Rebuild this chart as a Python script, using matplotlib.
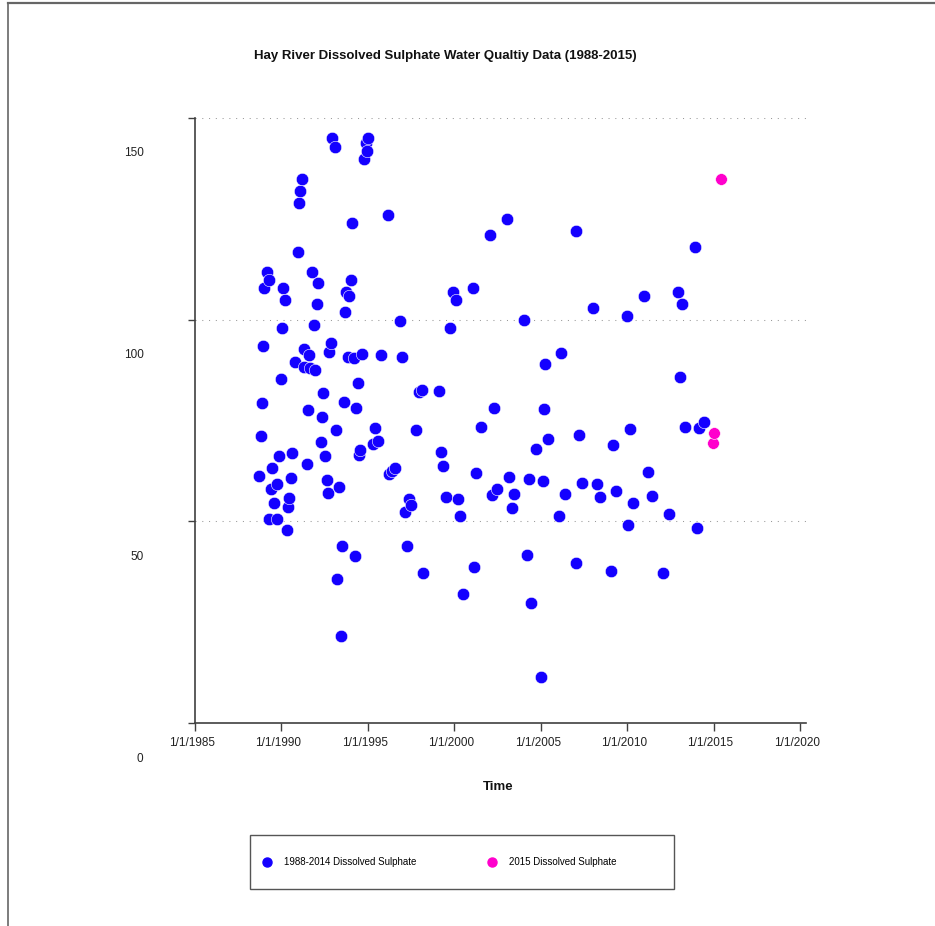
import matplotlib
matplotlib.use("Agg")
import matplotlib.pyplot as plt
import matplotlib.transforms as mtransforms
from matplotlib.lines import Line2D
from matplotlib.patches import Rectangle

plt.rcParams['font.family'] = ['Liberation Sans', 'DejaVu Sans']

# sample dates as decimal years, sulphate in mg/L
years_hist = [
    1988.70, 1988.84, 1988.89, 1988.92, 1989.01, 1989.15, 1989.27, 1989.30, 1989.42, 1989.47,
    1989.55, 1989.73, 1989.73, 1989.86, 1989.98, 1990.05, 1990.11, 1990.21, 1990.34, 1990.40,
    1990.46, 1990.54, 1990.63, 1990.80, 1990.94, 1991.00, 1991.09, 1991.17, 1991.29, 1991.31,
    1991.46, 1991.52, 1991.61, 1991.65, 1991.77, 1991.87, 1991.94, 1992.04, 1992.10, 1992.27,
    1992.35, 1992.42, 1992.51, 1992.62, 1992.68, 1992.75, 1992.85, 1992.95, 1993.08, 1993.18,
    1993.24, 1993.33, 1993.43, 1993.51, 1993.62, 1993.68, 1993.74, 1993.84, 1993.93, 1994.01,
    1994.09, 1994.20, 1994.24, 1994.32, 1994.42, 1994.47, 1994.53, 1994.68, 1994.78, 1994.88,
    1994.94, 1995.01, 1995.32, 1995.40, 1995.59, 1995.75, 1996.15, 1996.21, 1996.38, 1996.59,
    1996.86, 1996.98, 1997.17, 1997.25, 1997.40, 1997.52, 1997.77, 1997.96, 1998.14, 1998.18,
    1999.10, 1999.24, 1999.33, 1999.54, 1999.77, 1999.95, 2000.09, 2000.24, 2000.34, 2000.53,
    2001.11, 2001.16, 2001.28, 2001.53, 2002.09, 2002.20, 2002.29, 2002.46, 2003.06, 2003.19,
    2003.33, 2003.48, 2004.06, 2004.21, 2004.35, 2004.43, 2004.72, 2005.04, 2005.14, 2005.18,
    2005.27, 2005.41, 2006.06, 2006.16, 2006.40, 2007.03, 2007.07, 2007.24, 2007.38, 2008.02,
    2008.25, 2008.42, 2009.07, 2009.19, 2009.38, 2009.98, 2010.06, 2010.19, 2010.33, 2010.97,
    2011.22, 2011.45, 2012.07, 2012.45, 2012.95, 2013.08, 2013.17, 2013.36, 2013.95, 2014.05,
    2014.18, 2014.44,
]
sulphate_hist = [
    61.3, 71.1, 79.4, 93.5, 107.8, 111.9, 109.8, 50.7, 57.9, 63.2,
    54.6, 59.2, 50.7, 66.2, 85.2, 98.0, 107.8, 104.8, 47.9, 53.6,
    55.7, 60.8, 66.9, 89.5, 116.9, 128.9, 132.0, 134.9, 92.8, 88.3,
    64.2, 77.6, 91.2, 87.9, 111.8, 98.6, 87.4, 103.9, 109.0, 69.7,
    75.8, 81.9, 66.2, 60.3, 57.1, 92.1, 94.1, 145.1, 142.9, 72.7,
    35.7, 58.6, 21.5, 43.9, 79.6, 101.9, 106.8, 90.8, 105.9, 109.8,
    123.9, 90.6, 41.4, 78.2, 84.2, 66.4, 67.7, 91.6, 139.9, 143.9,
    141.9, 145.0, 69.1, 73.1, 69.8, 91.2, 125.9, 61.7, 62.5, 63.2,
    99.7, 90.7, 52.4, 43.9, 55.6, 54.1, 72.7, 82.0, 82.6, 37.1,
    82.4, 67.3, 63.6, 56.0, 97.9, 106.9, 104.9, 55.5, 51.4, 32.0,
    107.9, 38.8, 62.1, 73.3, 120.9, 56.5, 78.2, 57.9, 125.0, 60.9,
    53.4, 56.9, 99.8, 41.7, 60.5, 29.7, 67.9, 11.4, 60.1, 77.8,
    88.9, 70.4, 51.3, 91.7, 56.9, 122.0, 39.7, 71.4, 59.6, 102.9,
    59.3, 56.0, 37.8, 68.9, 57.6, 100.9, 49.2, 72.8, 54.5, 105.9,
    62.3, 56.4, 37.1, 51.8, 106.9, 85.7, 103.9, 73.5, 118.0, 48.4,
    73.2, 74.6,
]
years_2015 = [2014.96, 2015.04, 2015.44]
sulphate_2015 = [69.3, 71.9, 135.0]

x_ticks = [1985, 1990, 1995, 2000, 2005, 2010, 2015, 2020]
x_tick_labels = ['1/1/1985', '1/1/1990', '1/1/1995', '1/1/2000',
                 '1/1/2005', '1/1/2010', '1/1/2015', '1/1/2020']
y_ticks = [0, 50, 100, 150]

BLUE = '#1400ff'
PINK = '#ff00cc'
AXIS_COLOR = '#404040'

W, H = 935, 926
fig = plt.figure(figsize=(W / 100, H / 100), dpi=100)
ax = fig.add_axes([195 / W, 1 - 723 / H, (806 - 195) / W, (723 - 118) / H])

ax.scatter(years_hist, sulphate_hist, s=80, color=BLUE, edgecolors='white',
           linewidths=0.4, zorder=3, clip_on=False)
ax.scatter(years_2015, sulphate_2015, s=72, color=PINK, edgecolors='white',
           linewidths=0.4, zorder=3, clip_on=False)

ax.set_xlim(1985, 2020.35)
ax.set_ylim(0, 150)
ax.set_xticks(x_ticks)
ax.set_xticklabels(x_tick_labels)
ax.set_yticks(y_ticks)

for side in ['top', 'right']:
    ax.spines[side].set_visible(False)
for side in ['left', 'bottom']:
    ax.spines[side].set_color(AXIS_COLOR)
    ax.spines[side].set_linewidth(1.2)

ax.tick_params(axis='x', direction='out', length=5.5, width=1, color=AXIS_COLOR,
               labelsize=8.5, labelcolor='#222222', pad=4.5)
ax.tick_params(axis='y', direction='out', length=5, width=1, color=AXIS_COLOR,
               labelsize=8.5, labelcolor='#222222', pad=32)

# labels in the original sit a bit below their gridlines
y_off = mtransforms.ScaledTranslation(0, -34 / 100, fig.dpi_scale_trans)
for lbl in ax.get_yticklabels():
    lbl.set_transform(lbl.get_transform() + y_off)
x_off = mtransforms.ScaledTranslation(-3 / 100, 0, fig.dpi_scale_trans)
for lbl in ax.get_xticklabels():
    lbl.set_transform(lbl.get_transform() + x_off)

for v in y_ticks[1:]:
    ax.axhline(v, color='#999999', lw=0.75, ls=(0, (1, 5.5)), zorder=1)

ax.set_xlabel('Time', fontsize=9.5, fontweight='bold', color='#111111')
ax.xaxis.set_label_coords(0.497, -0.096)

fig.text(445 / W, 1 - 56 / H, 'Hay River Dissolved Sulphate Water Qualtiy Data (1988-2015)',
         ha='center', va='center', fontsize=9.5, fontweight='bold', color='#111111')

# legend
handles = [
    Line2D([], [], ls='none', marker='o', markersize=6.5, color=BLUE),
    Line2D([], [], ls='none', marker='o', markersize=6.5, color=PINK),
]
fig.legend(handles, ['1988-2014 Dissolved Sulphate', '2015 Dissolved Sulphate'],
           loc='center left', bbox_to_anchor=(262 / W, 1 - 862 / H), ncol=2,
           frameon=False, fontsize=7, handlelength=1.0, handletextpad=1.25,
           columnspacing=7.3, borderpad=0, borderaxespad=0)
fig.add_artist(Rectangle((250 / W, 1 - 889 / H), (674 - 250) / W, (889 - 835) / H,
                         transform=fig.transFigure, fill=False,
                         edgecolor='#555555', lw=1.0))

# outer chart frame (cropped)
fig.add_artist(Line2D([8 / W, 8 / W], [0, 1 - 3 / H], transform=fig.transFigure,
                      color='#666666', lw=1.2))
fig.add_artist(Line2D([8 / W, 1], [1 - 3 / H, 1 - 3 / H], transform=fig.transFigure,
                      color='#666666', lw=1.6))

fig.savefig('out.png', dpi=100)
